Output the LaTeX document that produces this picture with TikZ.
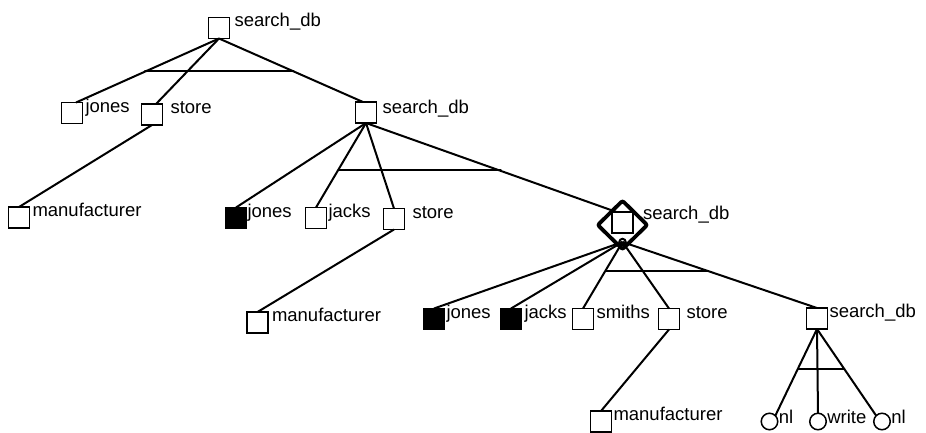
\documentclass[tikz,border=0pt]{standalone}
\usepackage{fontspec}
\setmainfont{Liberation Sans}
\usetikzlibrary{shapes.geometric}
\begin{document}
\begin{tikzpicture}[x=1pt,y=-1pt,
  goal/.style={draw,fill=white,line width=1.5pt,minimum size=21pt,inner sep=0pt,outer sep=0pt},
  solved/.style={goal,fill=black},
  leaf/.style={draw,fill=white,circle,line width=1.5pt,minimum size=16.5pt,inner sep=0pt,outer sep=0pt},
  lbl/.style={anchor=base west,inner sep=0pt,outer sep=0pt,font=\fontsize{18.5}{20}\selectfont},
  edge/.style={line width=2pt},
  andbar/.style={line width=1.6pt},
  focus/.style={draw,diamond,line width=3.8pt,rounded corners=2pt,minimum width=51pt,minimum height=50pt,inner sep=0pt}]
\useasboundingbox (0,0) rectangle (926,432);

% goal nodes
\node[goal]   (root)   at (219,28)    {};
\node[goal]   (jones1) at (72,113)    {};
\node[goal]   (store1) at (152,114.5) {};
\node[goal]   (sdb2)   at (366,112.5) {};
\node[goal]   (manu1)  at (19,217.5)  {};
\node[solved] (jones2) at (236,218)   {};
\node[goal]   (jacks2) at (316,218)   {};
\node[goal]   (store2) at (394,219)   {};
\node[goal]   (sdb3)   at (622.5,222.5) {};
\node[goal]   (manu2)  at (257.5,322.5) {};
\node[solved] (jones3) at (434,319)   {};
\node[solved] (jacks3) at (511,319)   {};
\node[goal]   (smiths) at (583,319)   {};
\node[goal]   (store3) at (669,319)   {};
\node[goal]   (sdb4)   at (817,318.5) {};
\node[goal]   (manu3)  at (601,421.5) {};
\node[leaf]   (nl1)    at (769.5,421.5) {};
\node[leaf]   (write)  at (818,421.5) {};
\node[leaf]   (nl2)    at (882,421.5) {};

% labels
\node[lbl] at ([xshift=5pt,yshift=2pt]root.east)   {search\_db};
\node[lbl] at ([xshift=3pt,yshift=1pt]jones1.east) {jones};
\node[lbl] at ([xshift=8pt,yshift=1pt]store1.east) {store};
\node[lbl] at ([xshift=6pt,yshift=-1pt]sdb2.east)  {search\_db};
\node[lbl] at ([xshift=3pt,yshift=1pt]manu1.east)  {manufacturer};
\node[lbl] at ([xshift=1pt,yshift=1pt]jones2.east) {jones};
\node[lbl] at ([xshift=2pt,yshift=1pt]jacks2.east) {jacks};
\node[lbl] at ([xshift=8pt,yshift=1pt]store2.east) {store};
\node[lbl] at ([xshift=10pt,yshift=3pt]sdb3.east)  {search\_db};
\node[lbl] at ([xshift=4pt,yshift=1pt]manu2.east)  {manufacturer};
\node[lbl] at ([xshift=2pt,yshift=1pt]jones3.east) {jones};
\node[lbl] at ([xshift=3pt,yshift=1pt]jacks3.east) {jacks};
\node[lbl] at ([xshift=3pt,yshift=1pt]smiths.east) {smiths};
\node[lbl] at ([xshift=7pt,yshift=1pt]store3.east) {store};
\node[lbl] at ([xshift=2pt,yshift=1pt]sdb4.east)   {search\_db};
\node[lbl] at ([xshift=2pt,yshift=1pt]manu3.east)  {manufacturer};
\node[lbl] at ([xshift=1pt,yshift=-2pt]nl1.east)   {nl};
\node[lbl] at ([xshift=1pt,yshift=-2pt]write.east) {write};
\node[lbl] at ([xshift=1pt,yshift=-2pt]nl2.east)   {nl};

% current goal marker
\node[focus] (mark) at (622.5,225) {};
\coordinate (sdb3b) at (622.5,242);
\draw[line width=2pt,fill=white] (sdb3b) circle (3.2pt);

% edges
\draw[edge] (root.south) -- ([xshift=4pt]jones1.north);
\draw[edge] (root.south) -- ([xshift=4pt]store1.north);
\draw[edge] (root.south) -- ([xshift=-3pt]sdb2.north);
\draw[edge] (store1.south) -- (manu1.north);
\draw[edge] (sdb2.south) -- (jones2.north);
\draw[edge] (sdb2.south) -- (jacks2.north);
\draw[edge] (sdb2.south) -- (store2.north);
\draw[edge] (sdb2.south) -- ([xshift=-6pt]sdb3.north);
\draw[edge] (store2.south) -- (manu2.north);
\draw[edge] (sdb3b) -- (jones3.north);
\draw[edge] (sdb3b) -- (jacks3.north);
\draw[edge] (sdb3b) -- (smiths.north);
\draw[edge] (sdb3b) -- (store3.north);
\draw[edge] (sdb3b) -- (sdb4.north);
\draw[edge] (store3.south) -- (manu3.north);
\draw[edge] (sdb4.south) -- (nl1.north east);
\draw[edge] (sdb4.south) -- (write.north);
\draw[edge] (sdb4.south) -- (nl2.north west);

% and-bars across conjoined subgoals
\draw[andbar] (intersection of root.south--jones1.north and 0,71--1,71)
           -- (intersection of root.south--sdb2.north and 0,71--1,71);
\draw[andbar] (intersection of sdb2.south--jacks2.north and 0,170--1,170)
           -- (intersection of sdb2.south--sdb3.north and 0,170--1,170);
\draw[andbar] (intersection of sdb3b--smiths.north and 0,271--1,271)
           -- (intersection of sdb3b--sdb4.north and 0,271--1,271);
\draw[andbar] (intersection of sdb4.south--nl1.north east and 0,369--1,369)
           -- (intersection of sdb4.south--nl2.north west and 0,369--1,369);
\end{tikzpicture}
\end{document}
